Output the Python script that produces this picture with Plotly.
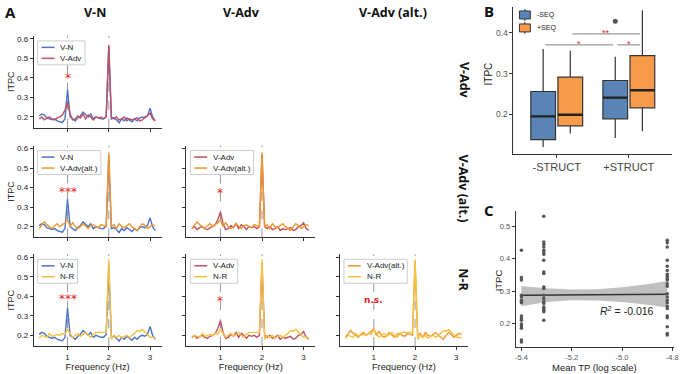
import plotly.graph_objects as go

W, H = 685, 374

# ---------------- Panel A data ----------------
freq = [0.3125, 0.375, 0.4375, 0.5, 0.5625, 0.625, 0.6875, 0.75, 0.8125, 0.875, 0.9375,
        1.0, 1.0625, 1.125, 1.1875, 1.25, 1.3125, 1.375, 1.4375, 1.5, 1.5625, 1.625,
        1.6875, 1.75, 1.8125, 1.875, 1.9375, 2.0, 2.0625, 2.125, 2.1875, 2.25, 2.3125,
        2.375, 2.4375, 2.5, 2.5625, 2.625, 2.6875, 2.75, 2.8125, 2.875, 2.9375, 3.0,
        3.0625, 3.125]
vn = [0.205, 0.215, 0.21, 0.195, 0.19, 0.185, 0.19, 0.18, 0.175, 0.172, 0.19,
      0.34, 0.2, 0.19, 0.18, 0.195, 0.205, 0.225, 0.21, 0.2, 0.215, 0.19,
      0.2, 0.195, 0.19, 0.19, 0.205, 0.56, 0.19, 0.195, 0.185, 0.17, 0.19,
      0.18, 0.195, 0.185, 0.175, 0.19, 0.18, 0.195, 0.2, 0.195, 0.205, 0.245,
      0.2, 0.18]
vadv = [0.19, 0.2, 0.185, 0.195, 0.2, 0.19, 0.185, 0.195, 0.2, 0.21, 0.235,
        0.275, 0.215, 0.185, 0.19, 0.205, 0.195, 0.215, 0.19, 0.21, 0.2, 0.185,
        0.2, 0.195, 0.2, 0.19, 0.2, 0.57, 0.2, 0.19, 0.2, 0.185, 0.19,
        0.2, 0.18, 0.19, 0.185, 0.19, 0.195, 0.18, 0.185, 0.2, 0.205, 0.22,
        0.19, 0.18]
vadv_alt = [0.19, 0.21, 0.225, 0.21, 0.2, 0.19, 0.205, 0.215, 0.2, 0.21, 0.22,
            0.235, 0.2, 0.22, 0.2, 0.19, 0.2, 0.215, 0.2, 0.19, 0.205, 0.21,
            0.2, 0.195, 0.21, 0.205, 0.2, 0.58, 0.2, 0.21, 0.19, 0.215, 0.2,
            0.195, 0.205, 0.215, 0.2, 0.19, 0.18, 0.2, 0.215, 0.205, 0.19, 0.2,
            0.21, 0.205]
nr = [0.185, 0.2, 0.195, 0.19, 0.21, 0.195, 0.2, 0.205, 0.2, 0.21, 0.205,
      0.23, 0.21, 0.19, 0.2, 0.21, 0.195, 0.205, 0.215, 0.2, 0.19, 0.205,
      0.215, 0.215, 0.215, 0.215, 0.215, 0.59, 0.18, 0.2, 0.19, 0.2, 0.185,
      0.195, 0.2, 0.19, 0.2, 0.21, 0.225, 0.22, 0.23, 0.215, 0.2, 0.19,
      0.19, 0.185]

series = {"V-N": vn, "V-Adv": vadv, "V-Adv(alt.)": vadv_alt, "N-R": nr}
colors = {"V-N": "#4C72C8", "V-Adv": "#BE5064", "V-Adv(alt.)": "#F0962E", "N-R": "#F5C242"}

col_titles = ["V-N", "V-Adv", "V-Adv (alt.)"]
row_titles = ["V-Adv", "V-Adv (alt.)", "N-R"]
# (row, col, first series, second series, significance label, label height)
panels = [(0, 0, "V-N", "V-Adv", "*", 0.40),
          (1, 0, "V-N", "V-Adv(alt.)", "***", 0.375),
          (2, 0, "V-N", "N-R", "***", 0.385),
          (1, 1, "V-Adv", "V-Adv(alt.)", "*", 0.37),
          (2, 1, "V-Adv", "N-R", "*", 0.375),
          (2, 2, "V-Adv(alt.)", "N-R", "n.s.", 0.38)]
freq_ticks = [1, 2, 3]
itpc_ticks = [0.2, 0.3, 0.4, 0.5, 0.6]

# ---------------- Panel B data ----------------
struct_cats = ["-STRUCT", "+STRUCT"]
seq_labels = ["-SEQ", "+SEQ"]
q1_mseq = [0.138, 0.189]
med_mseq = [0.195, 0.241]
q3_mseq = [0.256, 0.283]
lo_mseq = [0.120, 0.142]
hi_mseq = [0.360, 0.341]
q1_pseq = [0.172, 0.216]
med_pseq = [0.199, 0.259]
q3_pseq = [0.291, 0.344]
lo_pseq = [0.153, 0.159]
hi_pseq = [0.356, 0.455]
outlier_val = 0.428          # +STRUCT, -SEQ
sig_pairs = [((0, 1), (1, 1), 0.397, "**"),
             ((0, 0), (1, 0), 0.370, "*"),
             ((1, 0), (1, 1), 0.370, "*")]
b_ticks = [0.2, 0.3, 0.4]

# ---------------- Panel C data ----------------
tp_levels = [-5.4, -5.311, -4.82]
itpc_at_level = [
    [0.426, 0.342, 0.334, 0.287, 0.282, 0.272, 0.267, 0.264, 0.223, 0.215, 0.210,
     0.198, 0.192, 0.185, 0.149, 0.143],
    [0.531, 0.452, 0.445, 0.436, 0.426, 0.421, 0.414, 0.395, 0.359, 0.354, 0.313,
     0.308, 0.287, 0.277, 0.267, 0.262, 0.251, 0.246, 0.241, 0.236, 0.210],
    [0.457, 0.449, 0.436, 0.395, 0.377, 0.364, 0.352, 0.346, 0.339, 0.334, 0.323,
     0.315, 0.292, 0.282, 0.272, 0.264, 0.253, 0.246, 0.223, 0.218, 0.190, 0.169, 0.164],
]
fit_x = [-5.4, -5.3, -5.2, -5.1, -5.0, -4.9, -4.82]
fit_y = [0.287, 0.2875, 0.288, 0.2885, 0.289, 0.2895, 0.290]
ci_lo = [0.253, 0.266, 0.272, 0.271, 0.266, 0.258, 0.249]
ci_hi = [0.316, 0.309, 0.305, 0.306, 0.312, 0.321, 0.331]
c_xticks = [-5.4, -5.2, -5.0, -4.8]
c_xticklabels = ["-5.4", "-5.2", "-5.0", "-4.8"]
c_yticks = [0.2, 0.3, 0.4, 0.5]
r2_text = "<i>R</i><sup>2</sup> = -0.016"


def X(px):
    return px / W


def Y(py):
    return 1 - py / H


# approximate Arial glyph widths (em) for legend box sizing
CHAR_W = {"V": .667, "-": .333, "A": .667, "d": .556, "v": .5, "(": .333, "a": .556,
          "l": .222, "t": .278, ".": .278, ")": .333, "N": .722, "R": .722}


def text_w(s, size):
    return sum(CHAR_W.get(ch, 0.55) for ch in s) * size


fig = go.Figure()
shapes = []
annos = []

SANS = "Liberation Sans"
AX_FONT = dict(family=SANS, size=8, color="#222")
col_x = [(33, 162), (187, 317), (342, 471)]
row_y = [(35, 127), (145, 237), (254, 346)]
LEG_FS = 8

for k, (r, c, s1, s2, sig, sig_y) in enumerate(panels):
    n = k + 1
    sfx = "" if n == 1 else str(n)
    xa, ya = f"x{sfx}", f"y{sfx}"
    for s in (s1, s2):
        fig.add_trace(go.Scatter(x=freq, y=series[s], mode="lines", name=s,
                                 line=dict(color=colors[s], width=1.4),
                                 xaxis=xa, yaxis=ya, showlegend=False))
    xdict = dict(
        domain=[X(col_x[c][0]), X(col_x[c][1])], range=[0.18, 3.28], anchor=ya,
        tickvals=freq_ticks, showticklabels=(r == 2), showline=True, linecolor="#333",
        linewidth=1, ticks="outside", ticklen=3, tickcolor="#333", showgrid=False,
        zeroline=False, tickfont=AX_FONT)
    if r == 2:
        xdict["title"] = dict(text="Frequency (Hz)", standoff=0,
                              font=dict(family=SANS, size=9.3, color="#222"))
    ydict = dict(
        domain=[Y(row_y[r][1]), Y(row_y[r][0])], range=[0.145, 0.615], anchor=xa,
        tickvals=itpc_ticks, tickformat=".1f", showticklabels=(c == 0), showline=True,
        linecolor="#333", linewidth=1, ticks="outside", ticklen=3, tickcolor="#333",
        showgrid=False, zeroline=False, tickfont=AX_FONT)
    if c == 0:
        ydict["title"] = dict(text="ITPC", standoff=0,
                              font=dict(family=SANS, size=9, color="#222"))
    fig.layout[f"xaxis{sfx}"] = xdict
    fig.layout[f"yaxis{sfx}"] = ydict
    for fx in (1, 2):
        shapes.append(dict(type="line", xref=xa, yref=f"{ya} domain", x0=fx, x1=fx,
                           y0=0, y1=1, layer="below",
                           line=dict(color="#999999", width=1, dash="dash")))
    # significance label
    if sig == "n.s.":
        annos.append(dict(x=1, y=sig_y, xref=xa, yref=ya, text="<b>n.s.</b>",
                          showarrow=False, font=dict(family="DejaVu Sans", size=9, color="#e02525")))
    else:
        annos.append(dict(x=1, y=sig_y, xref=xa, yref=ya, text=sig, showarrow=False,
                          font=dict(family="DejaVu Sans", size=12, color="#e02525")))
    # manual legend (matplotlib style)
    bx = col_x[c][0] + 4
    by = row_y[r][0] + 5
    bw = 26 + max(text_w(s1, LEG_FS), text_w(s2, LEG_FS))
    bh = 24
    shapes.append(dict(type="rect", xref="paper", yref="paper", x0=X(bx), x1=X(bx + bw),
                       y0=Y(by + bh), y1=Y(by), fillcolor="rgba(255,255,255,0.85)",
                       line=dict(color="#cccccc", width=1), layer="above"))
    for j, s in enumerate((s1, s2)):
        yy = by + 6.5 + j * 11
        shapes.append(dict(type="line", xref="paper", yref="paper", x0=X(bx + 4),
                           x1=X(bx + 17), y0=Y(yy), y1=Y(yy),
                           line=dict(color=colors[s], width=1.5), layer="above"))
        annos.append(dict(x=X(bx + 21), y=Y(yy), xref="paper", yref="paper", text=s,
                          xanchor="left", yanchor="middle", showarrow=False,
                          font=dict(family=SANS, size=LEG_FS, color="#222")))

TITLE_FONT = dict(family="Open Sans", size=12.5, color="#111")
for t, px in zip(col_titles, (95, 243, 395)):
    annos.append(dict(x=X(px), y=Y(12), xref="paper", yref="paper", text=f"<b>{t}</b>",
                      showarrow=False, xanchor="center", yanchor="middle", font=TITLE_FONT))
for t, py in zip(row_titles, (80, 188, 280)):
    annos.append(dict(x=X(467), y=Y(py), xref="paper", yref="paper", text=f"<b>{t}</b>",
                      showarrow=False, textangle=90, xanchor="center", yanchor="middle",
                      font=TITLE_FONT))
for t, (px, py) in zip(["A", "B", "C"], [(10, 11), (492, 10), (492, 210)]):
    annos.append(dict(x=X(px), y=Y(py), xref="paper", yref="paper", text=f"<b>{t}</b>",
                      showarrow=False, xanchor="center", yanchor="middle", borderpad=0,
                      font=dict(family="Open Sans", size=15, color="#111")))

# ---------------- Panel B ----------------
GREY_T = dict(family=SANS, size=8.5, color="#555")
b_colors = ["#5A84B6", "#F79A4A"]
off = 0.188
bwid = 0.343
stats = [(q1_mseq, med_mseq, q3_mseq, lo_mseq, hi_mseq),
         (q1_pseq, med_pseq, q3_pseq, lo_pseq, hi_pseq)]
for si, (q1, med, q3, lo, hi) in enumerate(stats):
    pos = [i + (off if si else -off) for i in range(len(struct_cats))]
    fig.add_trace(go.Box(x=pos, q1=q1, median=med, q3=q3, lowerfence=lo, upperfence=hi,
                         width=bwid, fillcolor=b_colors[si], whiskerwidth=0,
                         line=dict(color="#333333", width=1.2), name=seq_labels[si],
                         boxpoints=False, xaxis="x7", yaxis="y7", showlegend=False))
    # thicker median bars (ggplot style)
    for p, m in zip(pos, med):
        shapes.append(dict(type="line", xref="x7", yref="y7", x0=p - bwid / 2,
                           x1=p + bwid / 2, y0=m, y1=m, line=dict(color="#222", width=2.4)))
fig.add_trace(go.Scatter(x=[1 - off], y=[outlier_val], mode="markers",
                         marker=dict(color="#555", size=5), xaxis="x7", yaxis="y7",
                         showlegend=False))
for (ga, sa), (gb, sb), yv, lab in sig_pairs:
    xa0 = ga + (off if sa else -off) + 0.03
    xb0 = gb + (off if sb else -off) - 0.03
    shapes.append(dict(type="line", xref="x7", yref="y7", x0=xa0, x1=xb0, y0=yv, y1=yv,
                       line=dict(color="#999999", width=1.3)))
    annos.append(dict(x=(xa0 + xb0) / 2, y=yv, xref="x7", yref="y7", text=lab,
                      showarrow=False, yanchor="bottom", yshift=-6,
                      font=dict(family=SANS, size=9, color="#e02525")))
fig.layout["xaxis7"] = dict(domain=[X(517), X(677)], range=[-0.6, 1.6], anchor="y7",
                            tickvals=[0, 1], ticktext=struct_cats, showline=True,
                            linecolor="#333", ticks="outside", ticklen=3, tickcolor="#333",
                            showgrid=False, zeroline=False,
                            tickfont=dict(family=SANS, size=11, color="#444"))
fig.layout["yaxis7"] = dict(domain=[Y(153), Y(6)], range=[0.104, 0.463], anchor="x7",
                            tickvals=b_ticks, tickformat=".1f", showline=True,
                            linecolor="#333", ticks="outside", ticklen=3, tickcolor="#333",
                            showgrid=False, zeroline=False, tickfont=GREY_T)
annos.append(dict(x=X(492), y=Y(73), xref="paper", yref="paper", text="ITPC",
                  textangle=-90, showarrow=False, xanchor="center", yanchor="middle",
                  font=dict(family=SANS, size=10, color="#222")))
# legend B
for si, lab in enumerate(seq_labels):
    cy = 14 + si * 13
    shapes.append(dict(type="line", xref="paper", yref="paper", x0=X(528.5), x1=X(528.5),
                       y0=Y(cy - 6), y1=Y(cy + 6), line=dict(color="#333", width=1)))
    shapes.append(dict(type="rect", xref="paper", yref="paper", x0=X(523), x1=X(534),
                       y0=Y(cy + 4), y1=Y(cy - 4), fillcolor=b_colors[si],
                       line=dict(color="#333", width=1)))
    annos.append(dict(x=X(539), y=Y(cy), xref="paper", yref="paper", text=lab,
                      xanchor="left", yanchor="middle", showarrow=False,
                      font=dict(family=SANS, size=7, color="#222")))

# ---------------- Panel C ----------------
fig.add_trace(go.Scatter(x=fit_x + fit_x[::-1], y=ci_hi + ci_lo[::-1], fill="toself",
                         fillcolor="rgba(150,150,150,0.6)", line=dict(width=0),
                         mode="lines", xaxis="x8", yaxis="y8", showlegend=False,
                         hoverinfo="skip"))
fig.add_trace(go.Scatter(x=fit_x, y=fit_y, mode="lines", line=dict(color="#333", width=1.5),
                         xaxis="x8", yaxis="y8", showlegend=False))
px_all, py_all = [], []
for lvl, vals in zip(tp_levels, itpc_at_level):
    px_all += [lvl] * len(vals)
    py_all += vals
fig.add_trace(go.Scatter(x=px_all, y=py_all, mode="markers",
                         marker=dict(color="#555", size=3.5), xaxis="x8", yaxis="y8",
                         showlegend=False))
annos.append(dict(x=-4.98, y=0.240, xref="x8", yref="y8", text=r2_text, showarrow=False,
                  xanchor="center", yanchor="middle",
                  font=dict(family=SANS, size=10.5, color="#222")))
fig.layout["xaxis8"] = dict(domain=[X(519.3), X(679)], range=[-5.4225, -4.793], anchor="y8",
                            tickvals=c_xticks, ticktext=c_xticklabels, showline=True,
                            linecolor="#333", ticks="outside", ticklen=3, tickcolor="#333",
                            showgrid=False, zeroline=False, ticklabeloverflow="allow",
                            tickfont=dict(family=SANS, size=7.5, color="#555"))
fig.layout["yaxis8"] = dict(domain=[Y(346.7), Y(210.7)], range=[0.128, 0.547], anchor="x8",
                            tickvals=c_yticks, tickformat=".1f", showline=True,
                            linecolor="#333", ticks="outside", ticklen=3, tickcolor="#333",
                            showgrid=False, zeroline=False,
                            tickfont=dict(family=SANS, size=7.5, color="#555"))
annos.append(dict(x=X(599), y=Y(367), xref="paper", yref="paper", text="Mean TP (log scale)",
                  showarrow=False, xanchor="center", yanchor="middle", borderpad=0,
                  font=dict(family=SANS, size=9.5, color="#222")))
annos.append(dict(x=X(501.5), y=Y(280), xref="paper", yref="paper", text="ITPC",
                  textangle=-90, showarrow=False, xanchor="center", yanchor="middle",
                  font=dict(family=SANS, size=9.5, color="#222")))

fig.update_layout(width=W, height=H, margin=dict(l=0, r=0, t=0, b=0),
                  paper_bgcolor="white", plot_bgcolor="rgba(0,0,0,0)", showlegend=False,
                  shapes=shapes, annotations=annos)
fig.write_html("out.html", config={"displayModeBar": False},
               post_script="document.body.style.margin='0';")
